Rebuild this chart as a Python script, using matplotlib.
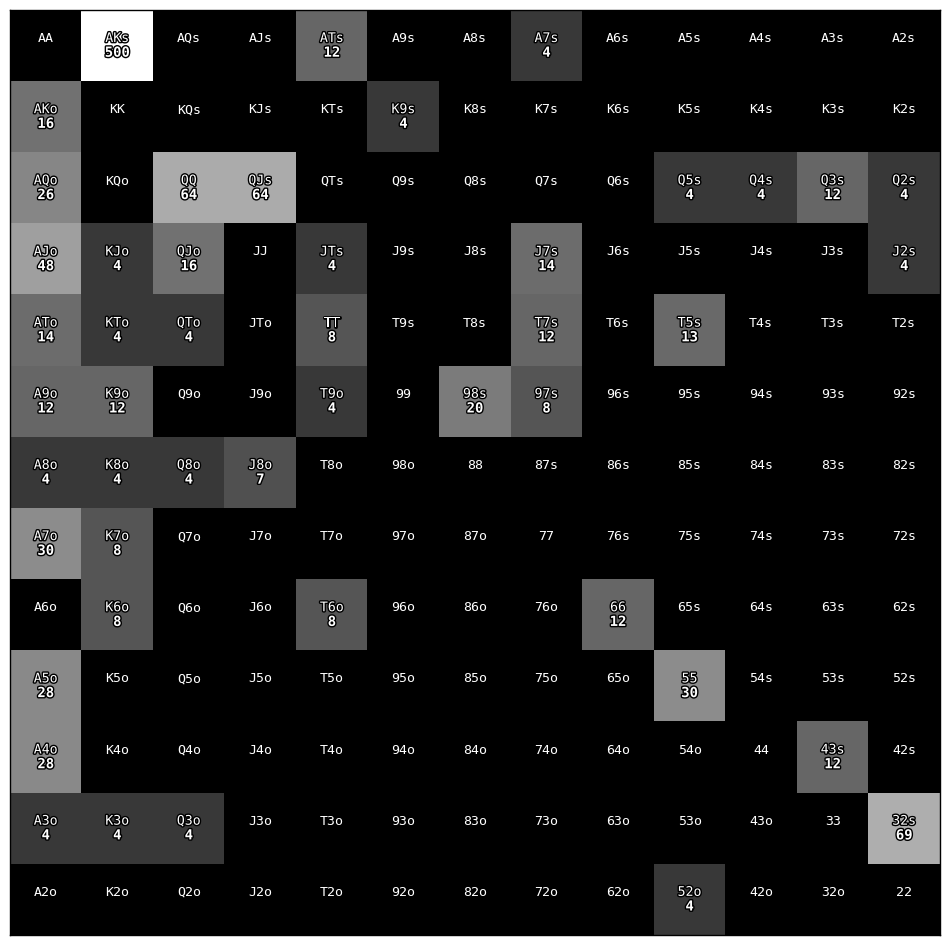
import numpy as np
import matplotlib.pyplot as plt
import matplotlib.colors as mcolors
import matplotlib.patheffects as pe

ranks = ['A', 'K', 'Q', 'J', 'T', '9', '8', '7', '6', '5', '4', '3', '2']

hands = ['AKs', 'ATs', 'A7s', 'AKo', 'K9s',
         'AQo', 'QQ', 'QJs', 'Q5s', 'Q4s', 'Q3s', 'Q2s',
         'AJo', 'KJo', 'QJo', 'JTs', 'J7s', 'J2s',
         'ATo', 'KTo', 'QTo', 'TT', 'T7s', 'T5s',
         'A9o', 'K9o', 'T9o', '98s', '97s',
         'A8o', 'K8o', 'Q8o', 'J8o',
         'A7o', 'K7o',
         'K6o', 'T6o', '66',
         'A5o', '55',
         'A4o', '43s',
         'A3o', 'K3o', 'Q3o', '32s',
         '52o']
counts = [500, 12, 4, 16, 4,
          26, 64, 64, 4, 4, 12, 4,
          48, 4, 16, 4, 14, 4,
          14, 4, 4, 8, 12, 13,
          12, 12, 4, 20, 8,
          4, 4, 4, 7,
          30, 8,
          8, 8, 12,
          28, 30,
          28, 12,
          4, 4, 4, 69,
          4]


def hand_label(i, j):
    if i == j:
        return ranks[i] + ranks[j]
    if i < j:
        return ranks[i] + ranks[j] + 's'
    return ranks[j] + ranks[i] + 'o'


n = len(ranks)
lookup = dict(zip(hands, counts))
grid = np.zeros((n, n))
for i in range(n):
    for j in range(n):
        grid[i, j] = lookup.get(hand_label(i, j), 0)

cmap = plt.get_cmap('gray').copy()
cmap.set_bad('black')

fig = plt.figure(figsize=(9.5, 9.44), dpi=100)
ax = fig.add_axes([10 / 950, 9 / 944, 930 / 950, 925 / 944])
masked = np.ma.masked_where(grid <= 0, grid)
ax.imshow(masked, cmap=cmap, norm=mcolors.LogNorm(vmin=1, vmax=500),
          aspect='auto', interpolation='nearest')

# hand names always sit a bit above centre, counts below them
stroke = [pe.withStroke(linewidth=2, foreground='black')]
for i in range(n):
    for j in range(n):
        lab = hand_label(i, j)
        v = grid[i, j]
        if v > 0:
            ax.text(j, i - 0.1, lab, ha='center', va='center', color='white',
                    fontsize=9.5, family='DejaVu Sans Mono', path_effects=stroke)
            ax.text(j, i + 0.1, str(int(v)), ha='center', va='center', color='white',
                    fontsize=10, family='DejaVu Sans Mono', fontweight='bold',
                    path_effects=stroke)
        else:
            ax.text(j, i - 0.1, lab, ha='center', va='center', color='white',
                    fontsize=9.5, family='DejaVu Sans Mono')

ax.set_xticks([])
ax.set_yticks([])
for s in ax.spines.values():
    s.set_linewidth(1)

fig.savefig('out.png', dpi=100)
